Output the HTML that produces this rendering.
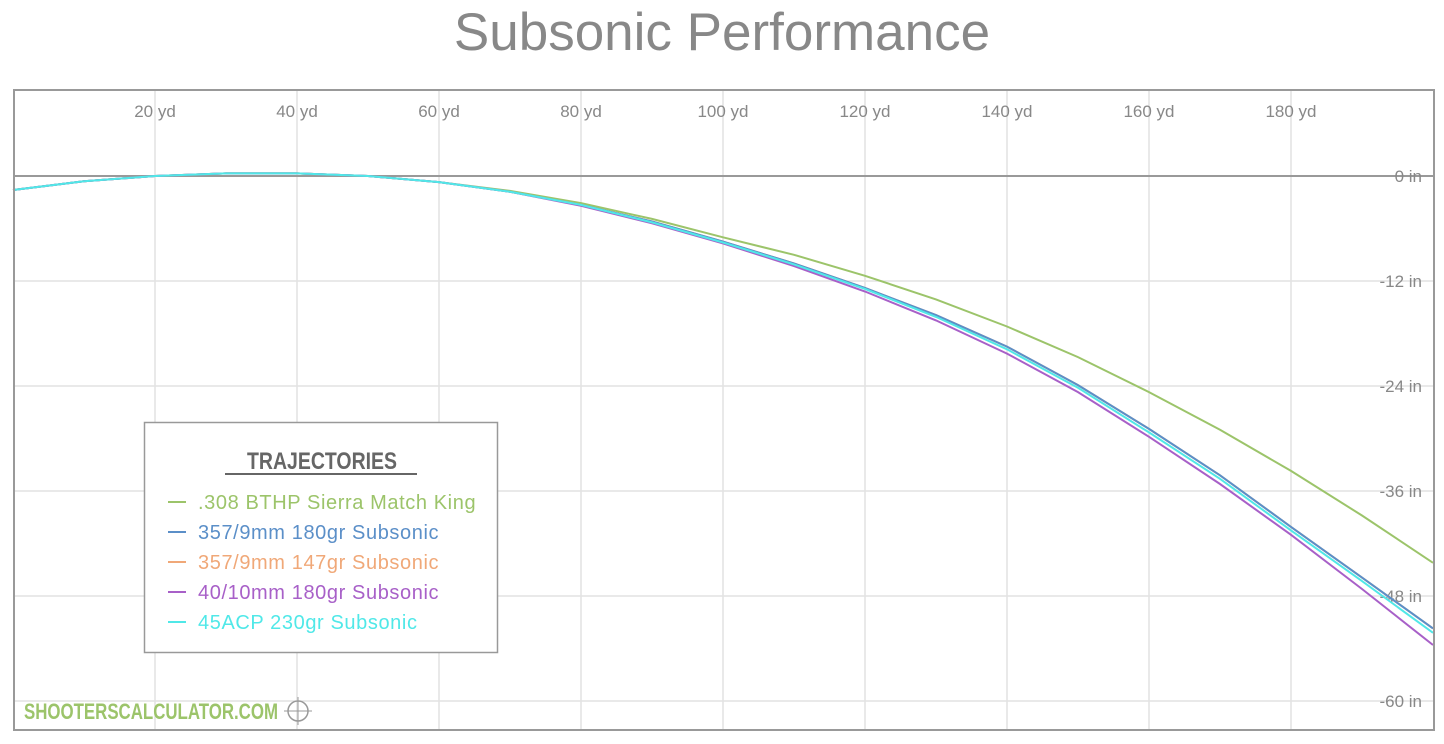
<!DOCTYPE html>
<html><head><meta charset="utf-8"><style>
body{margin:0;background:#fff;width:1444px;height:739px;overflow:hidden;font-family:"Liberation Sans",sans-serif}
</style></head><body>
<svg id="chart" width="1444" height="739" xmlns="http://www.w3.org/2000/svg">
<text x="722" y="50" text-anchor="middle" font-size="53" fill="#888" font-family="Liberation Sans, sans-serif">Subsonic Performance</text>
<g id="grid"></g>
<g id="series"></g>
<rect x="14" y="90" width="1420" height="640" fill="none" stroke="#999" stroke-width="2"/>
<g>
<rect x="144.5" y="422.5" width="353" height="230" fill="#fff" stroke="#999" stroke-width="1.5"/>
<text x="322" y="469" text-anchor="middle" font-size="24" font-weight="bold" fill="#666" textLength="150" lengthAdjust="spacingAndGlyphs" font-family="Liberation Sans Narrow, Liberation Sans, sans-serif">TRAJECTORIES</text>
<line x1="225" y1="474" x2="417" y2="474" stroke="#666" stroke-width="2"/>
<g id="legend-items"></g>
</g>
<text x="24" y="719" font-size="22" font-weight="bold" fill="#9cc46a" textLength="254" lengthAdjust="spacingAndGlyphs">SHOOTERSCALCULATOR.COM</text>
<g><circle cx="298" cy="711" r="10" fill="none" stroke="#999" stroke-width="1.5"/><line x1="284" y1="711" x2="312" y2="711" stroke="#999"/><line x1="298" y1="697" x2="298" y2="725" stroke="#999"/></g>
</svg>
<script>
const xTicks=[20,40,60,80,100,120,140,160,180];
const yTicks=[0,-12,-24,-36,-48,-60];
const ranges=[0,10,20,30,40,50,60,70,80,90,100,110,120,130,140,150,160,170,180,190,200];
const seriesNames=[".308 BTHP Sierra Match King","357/9mm 180gr Subsonic","357/9mm 147gr Subsonic","40/10mm 180gr Subsonic","45ACP 230gr Subsonic"];
const seriesColors=["#9cc46a","#5b8fc8","#f0a878","#a860c8","#50e8e8"];
const drop308=[-1.6,-0.6,0,0.3,0.3,0,-0.7,-1.7,-3.1,-4.9,-7.0,-9.0,-11.4,-14.1,-17.2,-20.7,-24.7,-29.0,-33.7,-38.8,-44.2];
const drop357_180=[-1.6,-0.6,0,0.3,0.3,0,-0.7,-1.8,-3.3,-5.2,-7.5,-10.0,-12.8,-15.9,-19.5,-23.9,-28.9,-34.2,-40.1,-45.9,-51.7];
const drop357_147=[-1.6,-0.6,0,0.3,0.3,0,-0.7,-1.8,-3.3,-5.2,-7.5,-10.0,-12.8,-15.9,-19.5,-23.9,-28.9,-34.2,-40.1,-45.9,-51.7];
const drop40=[-1.6,-0.6,0,0.3,0.3,0,-0.7,-1.8,-3.4,-5.4,-7.7,-10.3,-13.2,-16.5,-20.3,-24.7,-29.8,-35.2,-41.0,-47.2,-53.6];
const drop45=[-1.6,-0.6,0,0.3,0.3,0,-0.7,-1.8,-3.3,-5.3,-7.6,-10.1,-12.9,-16.1,-19.8,-24.2,-29.3,-34.6,-40.5,-46.3,-52.2];
const seriesData=[drop308,drop357_180,drop357_147,drop40,drop45];
const NS="http://www.w3.org/2000/svg";
const xs=v=>13+v*7.1;
const ys=v=>176-v*8.75;
const grid=document.getElementById('grid');
function mk(tag,attrs,parent){const e=document.createElementNS(NS,tag);for(const k in attrs)e.setAttribute(k,attrs[k]);parent.appendChild(e);return e;}
xTicks.forEach(t=>{
 const l=mk('line',{x1:xs(t),x2:xs(t),y1:90,y2:730,stroke:'#e2e2e2','stroke-width':1.5},grid);
 
 
 const tx=mk('text',{x:xs(t),y:117,'text-anchor':'middle','font-size':17,fill:'#888'},grid);
 
 
 tx.textContent=t+' yd';
});
yTicks.forEach(t=>{
 const l=mk('line',{x1:14,x2:1434,y1:ys(t),y2:ys(t),stroke:t===0?'#999':'#e2e2e2','stroke-width':t===0?2:1.5},grid);
 
 
 const tx=mk('text',{x:1422,y:ys(t)+6,'text-anchor':'end','font-size':17,fill:'#888'},grid);
 
 
 tx.textContent=t+' in';
});
const sg=document.getElementById('series');
const order=[0,2,1,3,4];
order.forEach(i=>{
 const d=seriesData[i].map((v,j)=>(j?'L':'M')+xs(ranges[j]).toFixed(1)+','+ys(v).toFixed(1)).join(' ');
 const p=mk('path',{d:d,fill:'none',stroke:seriesColors[i],'stroke-width':2},sg);
 
 
});
const lg=document.getElementById('legend-items');
seriesNames.forEach((n,i)=>{
 const y=502+i*30;
 const g=mk('g',{},lg);
 
 
 mk('line',{x1:168,x2:186,y1:y,y2:y,stroke:seriesColors[i],'stroke-width':2},g);
 const t=mk('text',{x:198,y:y+7,'font-size':20,'letter-spacing':0.6,fill:seriesColors[i]},g);
 t.textContent=n;
});
</script>
</body></html>
